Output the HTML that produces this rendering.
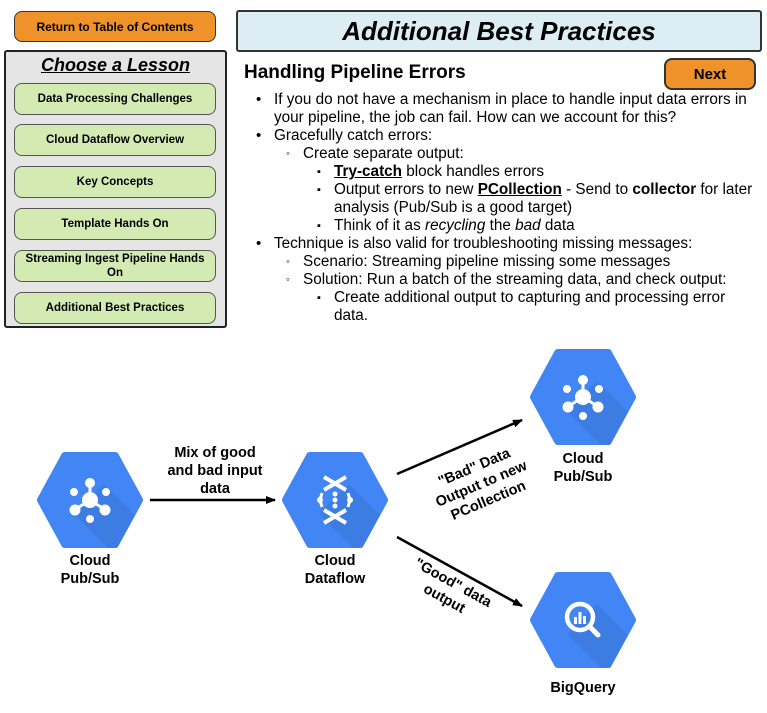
<!DOCTYPE html>
<html><head><meta charset="utf-8"><style>
body{margin:0;width:767px;height:713px;background:#fff;position:relative;overflow:hidden;font-family:"Liberation Sans",sans-serif;color:#000}
.btn{position:absolute;box-sizing:border-box;border:1.5px solid #333;border-radius:8px;display:flex;align-items:center;justify-content:center;text-align:center;font-weight:bold}
.g{left:14px;width:202px;height:32px;background:#d3ebb3;font-size:11.5px;line-height:14px;border-color:#555}
.l{position:absolute;font-size:15.3px;white-space:nowrap;line-height:18px}
.m{position:absolute;font-size:15px;line-height:18px}
.s{position:absolute;font-size:11px;line-height:18px}
</style></head><body>
<div class="btn" style="left:14px;top:11px;width:202px;height:31px;background:#f0922a;font-size:12px">Return to Table of Contents</div>
<div style="position:absolute;left:236px;top:10px;width:526px;height:42px;box-sizing:border-box;border:2px solid #333;border-radius:3px;background:#dcedf4;text-align:center;font:italic bold 26px/38px 'Liberation Sans',sans-serif">Additional Best Practices</div>
<div style="position:absolute;left:4px;top:50px;width:223px;height:278px;box-sizing:border-box;border:2px solid #222;border-radius:3px;background:#e5e5e5"></div>
<div style="position:absolute;left:4px;top:55px;width:223px;text-align:center;font:italic bold 18px 'Liberation Sans',sans-serif;text-decoration:underline">Choose a Lesson</div>
<div class="btn g" style="top:83px">Data Processing Challenges</div>
<div class="btn g" style="top:124px">Cloud Dataflow Overview</div>
<div class="btn g" style="top:166px">Key Concepts</div>
<div class="btn g" style="top:208px">Template Hands On</div>
<div class="btn g" style="top:250px">Streaming Ingest Pipeline Hands<br>On</div>
<div class="btn g" style="top:292px">Additional Best Practices</div>
<div class="btn" style="left:664px;top:58px;width:92px;height:32px;background:#f0922a;font-size:15px;border-width:2px">Next</div>
<div style="position:absolute;left:244px;top:62px;font-weight:bold;font-size:19px">Handling Pipeline Errors</div>

<div class="m" style="left:256px;top:91px">•</div><div class="l" style="left:274px;top:91px">If you do not have a mechanism in place to handle input data errors in</div>
<div class="l" style="left:274px;top:109px">your pipeline, the job can fail. How can we account for this?</div>
<div class="m" style="left:256px;top:127px">•</div><div class="l" style="left:274px;top:127px">Gracefully catch errors:</div>
<div class="s" style="left:286px;top:145px">◦</div><div class="l" style="left:303px;top:145px">Create separate output:</div>
<div class="s" style="left:317px;top:163px">▪</div><div class="l" style="left:334px;top:163px"><b><u>Try-catch</u></b> block handles errors</div>
<div class="s" style="left:317px;top:181px">▪</div><div class="l" style="left:334px;top:181px">Output errors to new <b><u>PCollection</u></b> - Send to <b>collector</b> for later</div>
<div class="l" style="left:334px;top:199px">analysis (Pub/Sub is a good target)</div>
<div class="s" style="left:317px;top:217px">▪</div><div class="l" style="left:334px;top:217px">Think of it as <i>recycling</i> the <i>bad</i> data</div>
<div class="m" style="left:256px;top:235px">•</div><div class="l" style="left:274px;top:235px">Technique is also valid for troubleshooting missing messages:</div>
<div class="s" style="left:286px;top:253px">◦</div><div class="l" style="left:303px;top:253px">Scenario: Streaming pipeline missing some messages</div>
<div class="s" style="left:286px;top:271px">◦</div><div class="l" style="left:303px;top:271px">Solution: Run a batch of the streaming data, and check output:</div>
<div class="s" style="left:317px;top:289px">▪</div><div class="l" style="left:334px;top:289px">Create additional output to capturing and processing error</div>
<div class="l" style="left:334px;top:307px">data.</div>

<svg width="767" height="713" style="position:absolute;left:0;top:0" font-family="Liberation Sans, sans-serif" font-weight="bold" font-size="14.5">
<defs>
<clipPath id="hc"><path d="M-53,0 L-27,-48 L27,-48 L53,0 L27,48 L-27,48 Z"/></clipPath>
<g id="hex"><path d="M-49,0 L-25,-44 L25,-44 L49,0 L25,44 L-25,44 Z" fill="#4285f4" stroke="#4285f4" stroke-width="8" stroke-linejoin="round"/>
<path d="M14,-16 L80,50 L50,80 L-16,14 Z" fill="#3a75d6" opacity="0.55" clip-path="url(#hc)"/></g>
<g id="ps" fill="#fff" stroke="#fff"><line x1="0" y1="0" x2="0" y2="-15" stroke-width="3"/><line x1="0" y1="0" x2="-14" y2="9" stroke-width="3"/><line x1="0" y1="0" x2="14" y2="9" stroke-width="3"/>
<circle r="7.5"/><circle cy="-17" r="4.5"/><circle cx="-15" cy="10" r="5"/><circle cx="15" cy="10" r="5"/><circle cx="-16" cy="-8" r="3.5"/><circle cx="16" cy="-8" r="3.5"/><circle cy="19" r="3.5"/></g>
<marker id="a" markerWidth="10" markerHeight="8" refX="9" refY="4" orient="auto" markerUnits="userSpaceOnUse"><path d="M0,0L10,4L0,8Z"/></marker>
</defs>
<g transform="translate(90,500)"><use href="#hex"/><use href="#ps"/></g>
<g transform="translate(583,397)"><use href="#hex"/><use href="#ps"/></g>
<g transform="translate(335,500)"><use href="#hex"/>
<g stroke="#fff" stroke-width="4" fill="none"><path d="M-11,-23 L11,-10 M11,-23 L-11,-10 M-11,23 L11,10 M11,23 L-11,10"/><path d="M-13,-7 L-15,0 L-13,7 M13,-7 L15,0 L13,7" stroke-width="3"/></g>
<g fill="#fff"><circle cy="-6" r="2.5"/><circle cy="0" r="2.5"/><circle cy="6" r="2.5"/><circle cx="-15" r="3"/><circle cx="15" r="3"/></g></g>
<g transform="translate(583,620)"><use href="#hex"/>
<circle cx="-3" cy="-3" r="13" fill="none" stroke="#fff" stroke-width="4.5"/><line x1="7" y1="7" x2="15" y2="15" stroke="#fff" stroke-width="5" stroke-linecap="round"/>
<g fill="#fff"><rect x="-9" y="-3" width="3" height="7"/><rect x="-4.5" y="-8" width="3" height="12"/><rect x="0" y="-4" width="3" height="8"/></g></g>
<g stroke="#000" stroke-width="2.5"><line x1="150" y1="500" x2="275" y2="500" marker-end="url(#a)"/>
<line x1="397" y1="474" x2="522" y2="420" marker-end="url(#a)"/>
<line x1="397" y1="537" x2="522" y2="606" marker-end="url(#a)"/></g>
<g text-anchor="middle">
<text x="90" y="565">Cloud</text><text x="90" y="583">Pub/Sub</text>
<text x="335" y="565">Cloud</text><text x="335" y="583">Dataflow</text>
<text x="583" y="463">Cloud</text><text x="583" y="481">Pub/Sub</text>
<text x="583" y="692">BigQuery</text>
<text x="215" y="457">Mix of good</text><text x="215" y="475">and bad input</text><text x="215" y="493">data</text>
<g transform="translate(483,488) rotate(-23)"><text y="-18">"Bad" Data</text><text y="0">Output to new</text><text y="18">PCollection</text></g>
<g transform="translate(448,592) rotate(29)"><text y="-6">"Good" data</text><text y="12">output</text></g>
</g>
</svg>
</body></html>
